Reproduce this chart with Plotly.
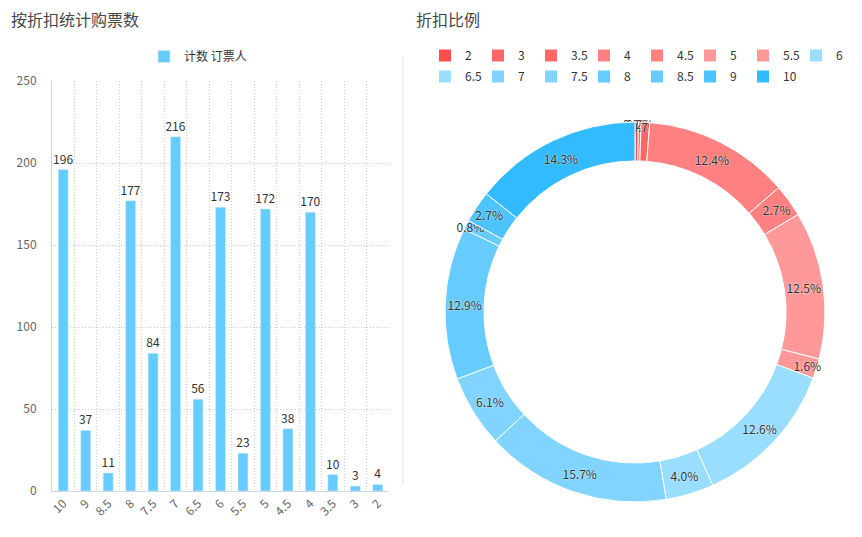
import math
import plotly.graph_objects as go

# ---- data ----
discounts = ["10", "9", "8.5", "8", "7.5", "7", "6.5", "6", "5.5", "5", "4.5", "4", "3.5", "3", "2"]
ticket_counts = [196, 37, 11, 177, 84, 216, 56, 173, 23, 172, 38, 170, 10, 3, 4]

pie_labels = ["2", "3", "3.5", "4", "4.5", "5", "5.5", "6", "6.5", "7", "7.5", "8", "8.5", "9", "10"]
pie_values = [4, 3, 10, 170, 38, 172, 23, 173, 56, 216, 84, 177, 11, 37, 196]
pie_colors = ["#ff4d4d", "#ff6666", "#ff6666", "#ff8080", "#ff8080", "#ff9999", "#ff9999",
              "#99ddff", "#99ddff", "#80d4ff", "#80d4ff", "#66ccff", "#66ccff", "#4dc3ff", "#33bbff"]

bar_title = "按折扣统计购票数"
pie_title = "折扣比例"
bar_series = "计数 订票人"

# the page body adds an 8px offset; size the figure to the visible area
OFF = 8
W, H = 862 - OFF, 537 - OFF
FONT = "Noto Sans CJK SC, Microsoft YaHei, sans-serif"

def px(x):
    return (x - OFF) / W

def py(y):
    return 1 - (y - OFF) / H

total = sum(pie_values)
pie_text = [f"{math.floor(v / total * 1000) / 10:.1f}%" for v in pie_values]

fig = go.Figure()

fig.add_trace(go.Bar(
    x=discounts, y=ticket_counts, name=bar_series,
    marker=dict(color="#66ccff"),
    text=[str(v) for v in ticket_counts], textposition="outside",
    textfont=dict(size=12, color="#333333"),
    cliponaxis=False, legend="legend",
))

fig.add_trace(go.Pie(
    labels=pie_labels, values=pie_values, text=pie_text,
    texttemplate="%{text}", textposition="inside",
    insidetextorientation="horizontal",
    textfont=dict(size=12, color="#333333", shadow="0px 0px 2px white"),
    marker=dict(colors=pie_colors, line=dict(color="white", width=1)),
    hole=0.795, sort=False, direction="clockwise", rotation=0,
    domain=dict(x=[px(445), px(825)], y=[py(502), py(122)]),
    showlegend=False,
))

# legend entries for the pie split over two rows
for i, (lbl, col) in enumerate(zip(pie_labels, pie_colors)):
    fig.add_trace(go.Scatter(
        x=[None], y=[None], mode="markers", name=lbl,
        marker=dict(symbol="square", size=12, color=col),
        legend="legend2" if i < 8 else "legend3",
        hoverinfo="skip",
    ))

legend_common = dict(orientation="h", font=dict(size=12, color="#333333", family=FONT),
                     bgcolor="rgba(0,0,0,0)", itemclick=False, itemdoubleclick=False)

fig.update_layout(
    width=W, height=H,
    margin=dict(l=0, r=0, t=0, b=0, autoexpand=False),
    paper_bgcolor="white", plot_bgcolor="white",
    font=dict(family=FONT, size=12, color="#666666"),
    bargap=0.555,
    uniformtext=dict(minsize=12, mode="show"),
    xaxis=dict(domain=[px(52), px(389)], type="category", categoryorder="array",
               categoryarray=discounts, tickangle=-45, tickson="boundaries",
               showgrid=True, griddash="1px,2px", gridcolor="#cccccc", gridwidth=1,
               showline=True, linecolor="#ccd6eb", linewidth=1, ticks="",
               tickfont=dict(size=12, color="#666666")),
    yaxis=dict(domain=[py(491), py(81)], range=[0, 250], dtick=50,
               showgrid=True, griddash="1px,2px", gridcolor="#cccccc",
               showline=True, linecolor="#ccd6eb", zeroline=False, ticks="",
               ticklabelstandoff=12, tickfont=dict(size=12, color="#666666")),
    legend=dict(x=px(198), xanchor="center", y=py(42), yanchor="top", **legend_common),
    legend2=dict(x=px(425), xanchor="left", y=py(41), yanchor="top", entrywidth=8, **legend_common),
    legend3=dict(x=px(425), xanchor="left", y=py(62), yanchor="top", entrywidth=8, **legend_common),
    annotations=[
        dict(text=bar_title, x=px(10), y=py(19), xref="paper", yref="paper",
             xanchor="left", yanchor="middle", showarrow=False, borderpad=0,
             font=dict(size=16, color="#464646")),
        dict(text=pie_title, x=px(415), y=py(19), xref="paper", yref="paper",
             xanchor="left", yanchor="middle", showarrow=False, borderpad=0,
             font=dict(size=16, color="#464646")),
    ],
    shapes=[dict(type="line", xref="paper", yref="paper",
                 x0=px(403), x1=px(403), y0=py(56), y1=py(484),
                 line=dict(color="#e3e3e3", width=1))],
)

fig.write_html("out.html")
